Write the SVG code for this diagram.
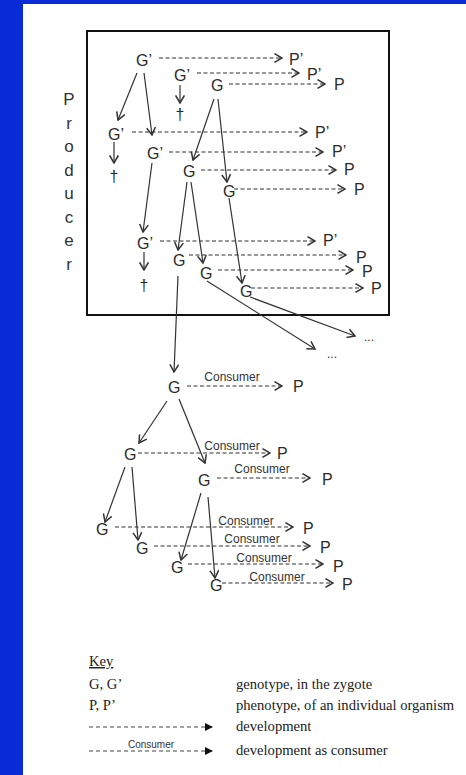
<svg xmlns="http://www.w3.org/2000/svg" width="466" height="775" viewBox="0 0 466 775">
<style>
.bg{fill:#0a2cd6}
.t{font-family:"Liberation Sans",Arial,sans-serif;font-size:16px;fill:#2b2b2b}
.lab{font-family:"Liberation Sans",Arial,sans-serif;font-size:12px;fill:#333;text-anchor:middle}
.prod{font-family:"Liberation Sans",Arial,sans-serif;font-size:17px;fill:#333;text-anchor:middle}
.k{font-family:"Liberation Serif","Times New Roman",serif;font-size:14.6px;fill:#222}
.d{stroke:#333;stroke-width:1.2;stroke-dasharray:4 2.5;fill:none;marker-end:url(#oa)}
.s{stroke:#333;stroke-width:1.2;fill:none;marker-end:url(#oa)}
.kd{stroke:#444;stroke-width:1.1;stroke-dasharray:4 3;fill:none;marker-end:url(#fa)}
</style>
<defs>
<marker id="oa" markerUnits="userSpaceOnUse" markerWidth="10" markerHeight="10" viewBox="0 0 8 8" refX="7" refY="4" orient="auto">
<path d="M1,0.5 L7,4 L1,7.5" fill="none" stroke="#333" stroke-width="1.2"/>
</marker>
<marker id="fa" markerUnits="userSpaceOnUse" markerWidth="8" markerHeight="8" viewBox="0 0 8 8" refX="7" refY="4" orient="auto">
<path d="M0,0 L8,4 L0,8 Z" fill="#111"/>
</marker>
</defs>
<rect x="0" y="0" width="466" height="775" class="bg"/>
<rect x="23" y="4" width="443" height="771" fill="#fff"/>
<g id="producer-box">
<rect x="87" y="31" width="302" height="284" fill="none" stroke="#111" stroke-width="2"/>
<text class="prod" x="69" y="105">P</text>
<text class="prod" x="69" y="129">r</text>
<text class="prod" x="69" y="152">o</text>
<text class="prod" x="69" y="176">d</text>
<text class="prod" x="69" y="199">u</text>
<text class="prod" x="69" y="223">c</text>
<text class="prod" x="69" y="246">e</text>
<text class="prod" x="69" y="270">r</text>
</g>
<g id="connectors">
<line class="d" x1="159" y1="58" x2="282" y2="58"/>
<line class="d" x1="197" y1="73" x2="299" y2="73"/>
<line class="d" x1="229" y1="84" x2="325" y2="84"/>
<line class="d" x1="132" y1="132" x2="307" y2="132"/>
<line class="d" x1="169" y1="152" x2="323" y2="152"/>
<line class="d" x1="201" y1="170" x2="336" y2="170"/>
<line class="d" x1="234" y1="189" x2="345" y2="189"/>
<line class="d" x1="160" y1="241" x2="315" y2="241"/>
<line class="d" x1="189" y1="255" x2="346" y2="255"/>
<line class="d" x1="218" y1="270" x2="353" y2="270"/>
<line class="d" x1="251" y1="288" x2="363" y2="288"/>
<line class="d" x1="187" y1="386" x2="282" y2="386"/>
<line class="d" x1="138" y1="453" x2="270" y2="453"/>
<line class="d" x1="217" y1="478" x2="310" y2="478"/>
<line class="d" x1="115" y1="527" x2="293" y2="527"/>
<line class="d" x1="154" y1="546" x2="310" y2="546"/>
<line class="d" x1="188" y1="564" x2="323" y2="564"/>
<line class="d" x1="222" y1="583" x2="333" y2="583"/>
<line class="s" x1="137" y1="73" x2="118" y2="120"/>
<line class="s" x1="144" y1="73" x2="152" y2="135"/>
<line class="s" x1="180" y1="85" x2="180" y2="103"/>
<line class="s" x1="214" y1="99" x2="193" y2="160"/>
<line class="s" x1="218" y1="99" x2="227" y2="182"/>
<line class="s" x1="114" y1="142" x2="114" y2="163"/>
<line class="s" x1="152" y1="163" x2="143" y2="232"/>
<line class="s" x1="144" y1="252" x2="144" y2="270"/>
<line class="s" x1="187" y1="182" x2="178" y2="250"/>
<line class="s" x1="191" y1="182" x2="203" y2="263"/>
<line class="s" x1="229" y1="198" x2="242" y2="283"/>
<line class="s" x1="207" y1="281" x2="315" y2="349"/>
<line class="s" x1="250" y1="297" x2="355" y2="336"/>
<line class="s" x1="178" y1="276" x2="174" y2="372"/>
<line class="s" x1="167" y1="401" x2="139" y2="443"/>
<line class="s" x1="179" y1="399" x2="205" y2="463"/>
<line class="s" x1="125" y1="467" x2="105" y2="522"/>
<line class="s" x1="132" y1="467" x2="138" y2="540"/>
<line class="s" x1="201" y1="493" x2="181" y2="560"/>
<line class="s" x1="208" y1="497" x2="215" y2="578"/>
</g>
<g id="n-g1"><text class="t" x="136" y="66">G’</text></g>
<g id="n-p1"><text class="t" x="289" y="65">P’</text></g>
<g id="n-g2"><text class="t" x="174" y="81">G’</text></g>
<g id="n-p2"><text class="t" x="307" y="80">P’</text></g>
<g id="n-g3"><text class="t" x="211" y="91">G</text></g>
<g id="n-p3"><text class="t" x="334" y="90">P</text></g>
<g id="n-dag1"><text class="t" x="180" y="120" text-anchor="middle" fill="#2b2b2b">†</text></g>
<g id="n-g4"><text class="t" x="108" y="140">G’</text></g>
<g id="n-p4"><text class="t" x="315" y="138">P’</text></g>
<g id="n-g5"><text class="t" x="147" y="159">G’</text></g>
<g id="n-p5"><text class="t" x="332" y="157">P’</text></g>
<g id="n-dag2"><text class="t" x="114" y="182" text-anchor="middle" fill="#2b2b2b">†</text></g>
<g id="n-g6"><text class="t" x="183" y="177">G</text></g>
<g id="n-p6"><text class="t" x="344" y="175">P</text></g>
<g id="n-g7"><text class="t" x="223" y="197">G</text></g>
<g id="n-p7"><text class="t" x="354" y="195">P</text></g>
<g id="n-g8"><text class="t" x="137" y="249">G’</text></g>
<g id="n-p8"><text class="t" x="323" y="246">P’</text></g>
<g id="n-dag3"><text class="t" x="144" y="291" text-anchor="middle" fill="#2b2b2b">†</text></g>
<g id="n-g9"><text class="t" x="173" y="266">G</text></g>
<g id="n-p9"><text class="t" x="356" y="263">P</text></g>
<g id="n-g10"><text class="t" x="200" y="279">G</text></g>
<g id="n-p10"><text class="t" x="362" y="277">P</text></g>
<g id="n-g11"><text class="t" x="240" y="297">G</text></g>
<g id="n-p11"><text class="t" x="371" y="294">P</text></g>
<g id="n-ell1"><text class="lab" x="332" y="358">...</text></g>
<g id="n-ell2"><text class="lab" x="369" y="341">...</text></g>
<g id="n-g12"><text class="t" x="168" y="393">G</text></g>
<g id="n-p12"><text class="t" x="293" y="392">P</text></g>
<g id="n-g13"><text class="t" x="124" y="460">G</text></g>
<g id="n-p13"><text class="t" x="277" y="459">P</text></g>
<g id="n-g14"><text class="t" x="198" y="486">G</text></g>
<g id="n-p14"><text class="t" x="322" y="485">P</text></g>
<g id="n-g15"><text class="t" x="96" y="535">G</text></g>
<g id="n-p15"><text class="t" x="303" y="534">P</text></g>
<g id="n-g16"><text class="t" x="136" y="554">G</text></g>
<g id="n-p16"><text class="t" x="320" y="553">P</text></g>
<g id="n-g17"><text class="t" x="171" y="573">G</text></g>
<g id="n-p17"><text class="t" x="333" y="572">P</text></g>
<g id="n-g18"><text class="t" x="210" y="591">G</text></g>
<g id="n-p18"><text class="t" x="342" y="590">P</text></g>
<g id="consumer-labels">
<text class="lab" x="232" y="381">Consumer</text>
<text class="lab" x="232" y="450">Consumer</text>
<text class="lab" x="262" y="473">Consumer</text>
<text class="lab" x="246" y="525">Consumer</text>
<text class="lab" x="252" y="543">Consumer</text>
<text class="lab" x="264" y="562">Consumer</text>
<text class="lab" x="277" y="581">Consumer</text>
</g>
<g id="key">
<text class="k" x="89" y="666" text-decoration="underline">Key</text>
<text class="k" x="89" y="689">G, G’</text>
<text class="k" x="236" y="689">genotype, in the zygote</text>
<text class="k" x="89" y="710">P, P’</text>
<text class="k" x="236" y="710">phenotype, of an individual organism</text>
<line class="kd" x1="89" y1="727" x2="212" y2="727"/>
<text class="k" x="236" y="731">development</text>
<line class="kd" x1="89" y1="751" x2="212" y2="751"/>
<text x="151" y="748" font-family="Liberation Sans, Arial, sans-serif" font-size="10" fill="#333" text-anchor="middle">Consumer</text>
<text class="k" x="236" y="755">development as consumer</text>
</g>
</svg>
